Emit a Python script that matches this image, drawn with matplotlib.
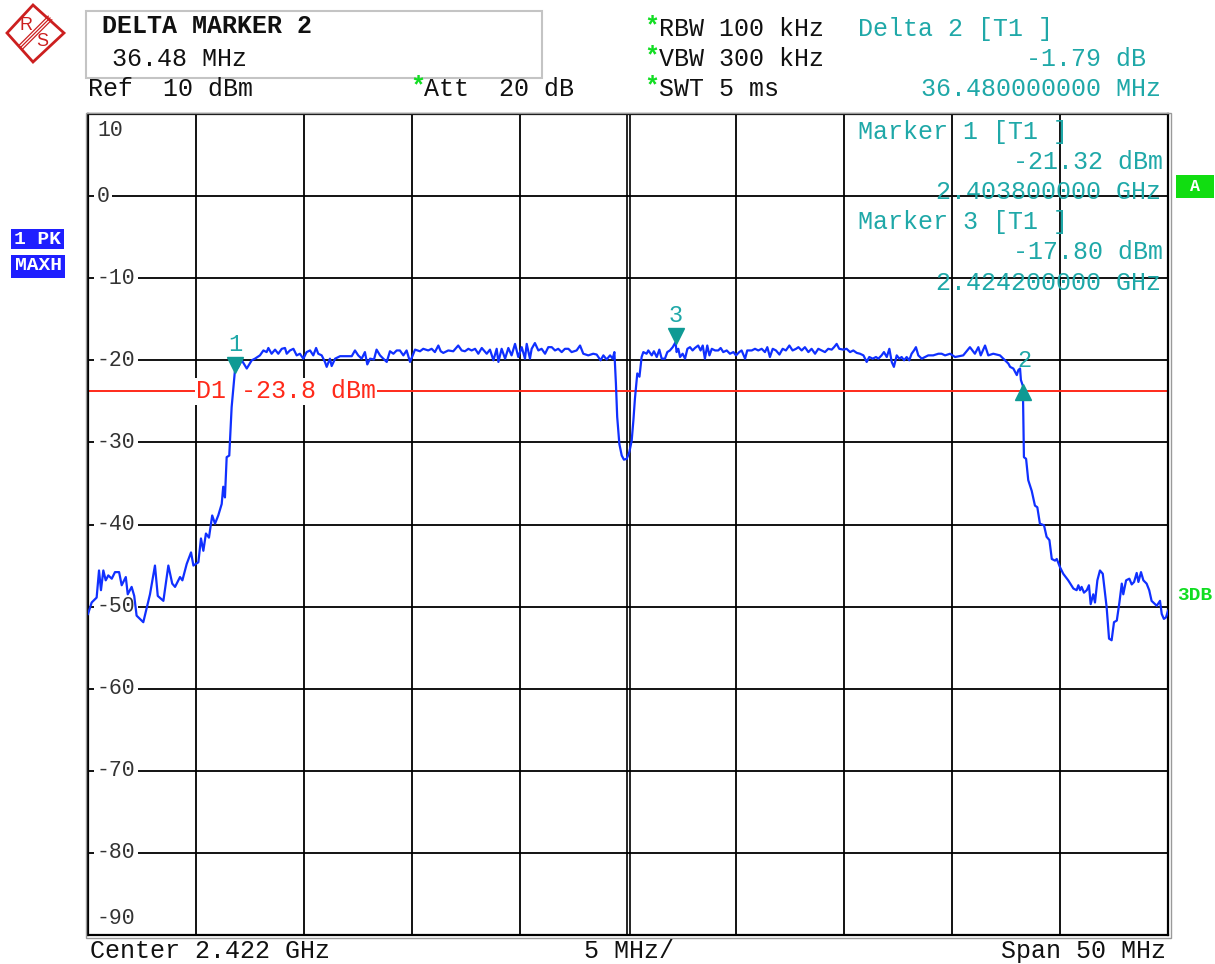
import matplotlib
matplotlib.use("Agg")
from matplotlib import pyplot as plt
from matplotlib.patches import Rectangle, Polygon
from matplotlib.transforms import ScaledTranslation
import numpy as np

# spectrum trace, frequency as MHz from start of span (2.397 GHz), level in dBm
start_mhz = 2397.0
span_mhz = 50.0
trace_off_mhz = [
    0.00, 0.17, 0.40, 0.51, 0.60, 0.71, 0.82, 0.94, 1.10, 1.25,
    1.44, 1.56, 1.75, 1.84, 2.02, 2.14, 2.25, 2.56, 2.87, 3.10,
    3.23, 3.49, 3.72, 3.90, 4.03, 4.26, 4.37, 4.49, 4.57, 4.77,
    4.88, 5.11, 5.23, 5.34, 5.46, 5.60, 5.75, 5.88, 6.03, 6.19,
    6.26, 6.34, 6.42, 6.54, 6.65, 6.80, 6.96, 7.12, 7.35, 7.58,
    7.73, 7.96, 8.12, 8.27, 8.35, 8.50, 8.66, 8.81, 8.97, 9.12,
    9.20, 9.35, 9.51, 9.66, 9.81, 9.97, 10.12, 10.28, 10.43, 10.56,
    10.66, 10.82, 10.97, 11.05, 11.20, 11.28, 11.44, 11.67, 11.98, 12.21,
    12.36, 12.51, 12.67, 12.82, 12.93, 13.06, 13.24, 13.36, 13.52, 13.67,
    13.83, 13.98, 14.14, 14.29, 14.44, 14.60, 14.75, 14.91, 15.03, 15.14,
    15.37, 15.52, 15.75, 15.91, 16.06, 16.22, 16.33, 16.45, 16.68, 16.91,
    17.14, 17.30, 17.45, 17.61, 17.76, 17.92, 18.07, 18.23, 18.46, 18.61,
    18.77, 18.92, 19.00, 19.15, 19.31, 19.46, 19.61, 19.77, 19.92, 20.08,
    20.23, 20.31, 20.46, 20.54, 20.69, 20.85, 21.00, 21.16, 21.31, 21.47,
    21.62, 21.77, 21.93, 22.08, 22.24, 22.39, 22.62, 22.78, 22.93, 23.16,
    23.39, 23.55, 23.73, 23.86, 24.01, 24.17, 24.29, 24.37,
    24.44, 24.50, 24.60, 24.71, 24.81, 24.94, 25.06, 25.17, 25.25, 25.32,
    25.43, 25.53, 25.63,
    25.71, 25.86, 25.94, 26.10, 26.20, 26.33, 26.45, 26.56, 26.71, 26.82,
    26.94, 27.07, 27.20, 27.25, 27.33, 27.41, 27.53, 27.64, 27.75, 27.87,
    27.99, 28.10, 28.25, 28.36, 28.46, 28.56, 28.67, 28.77, 28.88, 29.03,
    29.18, 29.29, 29.41, 29.57, 29.72, 29.88, 30.00, 30.15, 30.26, 30.42,
    30.52, 30.73, 30.88, 31.03, 31.19, 31.34, 31.45, 31.57, 31.70, 31.85,
    32.01, 32.16, 32.31, 32.47, 32.62, 32.78, 32.89, 33.04, 33.19, 33.35,
    33.50, 33.66, 33.81, 33.97, 34.12, 34.27, 34.43, 34.54, 34.66, 34.78,
    34.97, 35.12, 35.28, 35.43, 35.59, 35.74, 35.90, 36.05, 36.17, 36.33,
    36.48, 36.59, 36.74, 36.85, 36.98, 37.10, 37.21, 37.31, 37.44, 37.56,
    37.67, 37.78, 37.90, 38.02, 38.13, 38.24, 38.33, 38.44, 38.60, 38.75,
    38.90, 39.13, 39.37, 39.52, 39.68, 39.91, 40.14, 40.52, 40.83, 41.06,
    41.22, 41.33, 41.53, 41.68, 41.91, 42.22, 42.45, 42.61, 42.69, 42.84,
    43.00, 43.07, 43.15, 43.19, 43.28,
    43.33, 43.43, 43.53, 43.69, 43.84, 43.95, 44.07, 44.26, 44.38, 44.51,
    44.62, 44.77, 44.85, 45.00, 45.15, 45.38, 45.62, 45.77, 45.85, 45.93,
    46.00, 46.11, 46.24, 46.34, 46.42, 46.54, 46.62, 46.73, 46.85, 46.98,
    47.16, 47.27, 47.39, 47.50, 47.63, 47.75, 47.86, 47.93, 48.06, 48.21,
    48.32, 48.43, 48.55, 48.63, 48.75, 48.86, 49.01, 49.13, 49.24, 49.48,
    49.63, 49.71, 49.81, 49.91, 50.00,
]
trace_dbm = [
    -50.9, -49.5, -48.9, -45.6, -48.0, -45.6, -46.8, -46.2, -46.6, -45.8,
    -45.8, -47.4, -46.4, -48.5, -47.6, -48.7, -51.1, -51.9, -48.5, -45.0,
    -48.7, -49.3, -45.0, -47.2, -47.6, -46.4, -46.8, -45.6, -44.8, -43.4,
    -45.0, -44.6, -41.7, -43.2, -41.1, -41.6, -38.9, -39.9, -38.9, -37.5,
    -35.4, -36.7, -31.8, -31.6, -25.7, -21.32, -20.8, -20.0, -21.0, -20.0,
    -19.8, -19.4, -18.8, -19.0, -18.5, -19.2, -18.7, -19.2, -18.6, -18.5,
    -19.2, -18.8, -18.6, -19.4, -19.2, -19.8, -19.0, -18.8, -19.4, -18.5,
    -19.2, -19.4, -20.2, -20.8, -19.8, -20.7, -19.8, -19.5, -19.5, -19.5,
    -18.8, -19.4, -19.8, -19.0, -20.5, -19.8, -19.9, -18.7, -19.4, -19.8,
    -20.2, -18.9, -19.2, -18.8, -18.8, -19.4, -18.8, -20.2, -19.4, -18.7,
    -18.9, -18.6, -18.8, -18.6, -19.0, -18.2, -18.9, -19.1, -18.8, -18.9,
    -18.2, -18.8, -18.9, -18.6, -18.8, -18.6, -19.2, -18.5, -19.2, -18.7,
    -20.0, -18.6, -20.2, -18.6, -19.8, -18.5, -19.4, -18.0, -19.6, -18.4,
    -19.8, -18.0, -19.8, -18.6, -17.9, -18.8, -18.6, -19.2, -18.4, -18.4,
    -18.8, -18.6, -19.0, -18.6, -18.6, -19.0, -18.8, -18.2, -19.2, -19.4,
    -19.2, -19.3, -20.0, -19.4, -19.9, -19.4, -19.8, -19.0,
    -22.8, -26.9, -30.2, -31.6, -32.1, -32.0, -31.2, -29.8, -27.3, -24.7,
    -21.6, -22.0, -19.6,
    -19.0, -19.2, -18.8, -19.4, -18.9, -19.6, -18.7, -19.8, -19.8, -19.0,
    -18.8, -18.4, -17.80, -19.0, -18.6, -19.6, -19.2, -19.8, -18.6, -18.4,
    -18.8, -18.5, -18.2, -18.8, -18.2, -19.8, -18.2, -19.4, -18.6, -18.8,
    -18.8, -18.5, -19.0, -18.8, -19.2, -19.0, -19.4, -19.0, -18.8, -19.8,
    -18.8, -18.8, -18.6, -18.8, -18.6, -19.0, -18.4, -19.6, -18.6, -18.8,
    -19.3, -18.6, -18.8, -18.2, -18.8, -18.6, -18.4, -18.8, -18.4, -19.0,
    -18.6, -19.2, -18.6, -18.8, -19.0, -18.6, -18.7, -18.4, -18.0, -18.6,
    -18.7, -18.6, -19.0, -18.8, -19.1, -19.2, -19.4, -20.2, -19.6, -19.8,
    -19.6, -19.8, -19.4, -19.0, -19.6, -18.6, -20.2, -20.8, -19.4, -19.8,
    -19.6, -20.0, -19.6, -20.0, -19.2, -18.8, -18.4, -19.4, -19.8, -19.6,
    -19.4, -19.4, -19.2, -19.2, -19.4, -19.2, -19.6, -19.4, -18.4, -19.2,
    -18.4, -19.4, -18.2, -19.4, -19.2, -19.4, -20.0, -20.4, -20.8, -21.0,
    -21.8, -21.2, -21.0, -22.4, -23.11,
    -31.8, -32.0, -34.6, -35.9, -37.7, -37.9, -39.9, -40.1, -41.5, -41.9,
    -44.2, -44.4, -44.2, -45.2, -46.0, -46.8, -47.8, -48.0, -47.4, -48.0,
    -47.6, -48.3, -48.0, -47.4, -49.7, -48.5, -49.5, -46.8, -45.6, -46.0,
    -50.1, -53.9, -54.1, -51.9, -51.7, -49.5, -47.2, -48.5, -46.8, -46.6,
    -47.3, -47.0, -45.9, -47.0, -45.8, -46.8, -47.2, -48.0, -49.3, -49.9,
    -49.3, -50.9, -51.5, -51.3, -50.5,
]

# markers (MHz, dBm) and display line
marker_names = ["1", "2", "3"]
marker_mhz = [2403.8, 2440.28, 2424.2]
marker_dbm = [-21.32, -23.11, -17.80]
d1_level = -23.8

ytick_vals = [10, 0, -10, -20, -30, -40, -50, -60, -70, -80, -90]
ref_level = 10
bottom_level = -90

FONT = "Liberation Mono"
TEAL = "#1fa8a8"
MTEAL = "#0f9a94"
GREEN = "#11dd22"
BLUE = "#1030ff"
RED = "#ff2a1a"
LOGO = "#cc1f1f"
W, H = 1215, 964

fig = plt.figure(figsize=(W / 100, H / 100), dpi=100)
ax = fig.add_axes([88 / W, (H - 935) / H, 1080 / W, 821 / H])
ax.set_xlim(start_mhz, start_mhz + span_mhz)
ax.set_ylim(bottom_level, ref_level)
ax.set_xticks([])
ax.set_yticks([])
for s in ax.spines.values():
    s.set_linewidth(1.6)
    s.set_color("black")

# grid
xt = ax.get_xaxis_transform()
for k in range(1, 10):
    xg = start_mhz + k * span_mhz / 10
    if k == 5:
        for dx in (-1.5, 1.5):
            ax.plot([xg, xg], [0, 1], color="black", lw=1.2,
                    transform=xt + ScaledTranslation(dx / 100, 0, fig.dpi_scale_trans))
    else:
        ax.axvline(xg, color="black", lw=1.3)
for v in ytick_vals[1:-1]:
    ax.axhline(v, color="black", lw=1.3)

# y labels
yt = ax.get_yaxis_transform()
for v in ytick_vals:
    dy = 0
    if v == ref_level:
        dy = -12.2
    elif v == bottom_level:
        dy = 12.2
    ax.annotate(str(v), (9 / 1080, v), xycoords=yt, xytext=(0, dy), textcoords="offset points",
                ha="left", va="center", fontsize=15.5, family=FONT, color="#333333",
                bbox=dict(boxstyle="square,pad=0.12", fc="white", ec="none"), zorder=3)

# display line
ax.axhline(d1_level, color=RED, lw=1.4, zorder=2)
ax.text(start_mhz + 5.0, d1_level, "D1 -23.8 dBm", family=FONT, fontsize=18, color=RED,
        ha="left", va="center", zorder=3,
        bbox=dict(boxstyle="square,pad=0.05", fc="white", ec="none"))

# trace
trace_mhz = [start_mhz + f for f in trace_off_mhz]
ax.plot(trace_mhz, trace_dbm, color=BLUE, lw=1.6, zorder=4)

# markers
up = ScaledTranslation(0, 6 / 100, fig.dpi_scale_trans)
down = ScaledTranslation(0, -6 / 100, fig.dpi_scale_trans)
for name, f, l in zip(marker_names, marker_mhz, marker_dbm):
    if name == "2":
        ax.plot([f], [l], marker="^", ms=11, color=MTEAL, transform=ax.transData + down, zorder=5)
        ax.annotate(name, (f, l), xytext=(1.5, 18), textcoords="offset points", ha="center",
                    va="center", family=FONT, fontsize=17, color=TEAL, zorder=5)
    else:
        ax.plot([f], [l], marker="v", ms=11, color=MTEAL, transform=ax.transData + up, zorder=5)
        ax.annotate(name, (f, l), xytext=(0, 19.5), textcoords="offset points", ha="center",
                    va="center", family=FONT, fontsize=17, color=TEAL, zorder=5)

# overlay in pixel coordinates for the screen annotations
ov = fig.add_axes([0, 0, 1, 1])
ov.set_xlim(0, W)
ov.set_ylim(H, 0)
ov.axis("off")

def txt(x, y, s, **kw):
    kw.setdefault("family", FONT)
    kw.setdefault("fontsize", 18)
    kw.setdefault("color", "#111111")
    kw.setdefault("va", "center")
    ov.text(x, y, s, **kw)

# outer light frame
ov.add_patch(Rectangle((85.5, 112.5), 1085.5, 825, fill=False, ec="#9a9a9a", lw=1.0))

# R&S logo
ov.add_patch(Polygon([(33, 5), (64, 33), (33, 62), (7, 33)], closed=True, fill=False, ec=LOGO, lw=2))
for d in (-1.8, 0, 1.8):
    ov.plot([50 + d, 21 + d], [18 + d, 47 + d], color=LOGO, lw=0.9)
txt(26, 25, "R", fontsize=13, color=LOGO, ha="center", family="Liberation Sans")
txt(42, 42, "S", fontsize=13, color=LOGO, ha="center", family="Liberation Sans")

# header box
ov.add_patch(Rectangle((86, 11), 456, 67, fill=False, ec="#c4c4c4", lw=1.5))
txt(102, 26, "DELTA MARKER 2", fontweight="bold")
txt(112, 59, "36.48 MHz")
txt(88, 89, "Ref  10 dBm")
txt(410, 86, "*", color=GREEN, fontweight="bold")
txt(424, 89, "Att  20 dB")

for yy, s in zip([29, 59, 89], ["RBW 100 kHz", "VBW 300 kHz", "SWT 5 ms"]):
    txt(644, yy - 3, "*", color=GREEN, fontweight="bold")
    txt(659, yy, s)

txt(858, 29, "Delta 2 [T1 ]", color=TEAL)
txt(1146, 59, "-1.79 dB", color=TEAL, ha="right")
txt(1161, 89, "36.480000000 MHz", color=TEAL, ha="right")

txt(858, 132, "Marker 1 [T1 ]", color=TEAL)
txt(1163, 162, "-21.32 dBm", color=TEAL, ha="right")
txt(1161, 192, "2.403800000 GHz", color=TEAL, ha="right")
txt(858, 222, "Marker 3 [T1 ]", color=TEAL)
txt(1163, 252, "-17.80 dBm", color=TEAL, ha="right")
txt(1161, 283, "2.424200000 GHz", color=TEAL, ha="right")

# side labels
ov.add_patch(Rectangle((11, 229), 53, 20, color="#1f1fff", lw=0))
ov.add_patch(Rectangle((11, 255), 54, 23, color="#1f1fff", lw=0))
txt(37.5, 239, "1 PK", color="white", fontweight="bold", fontsize=14, ha="center")
txt(38, 266, "MAXH", color="white", fontweight="bold", fontsize=14, ha="center")
ov.add_patch(Rectangle((1176, 175), 38, 23, color="#11dd11", lw=0))
txt(1195, 186.5, "A", color="white", fontweight="bold", fontsize=12, ha="center")
txt(1177, 596, "3DB", color=GREEN, fontweight="bold", fontsize=14)

# bottom labels
txt(90, 963, "Center 2.422 GHz", va="bottom")
txt(629, 963, "5 MHz/", ha="center", va="bottom")
txt(1166, 963, "Span 50 MHz", ha="right", va="bottom")

fig.savefig("out.png", dpi=100)
